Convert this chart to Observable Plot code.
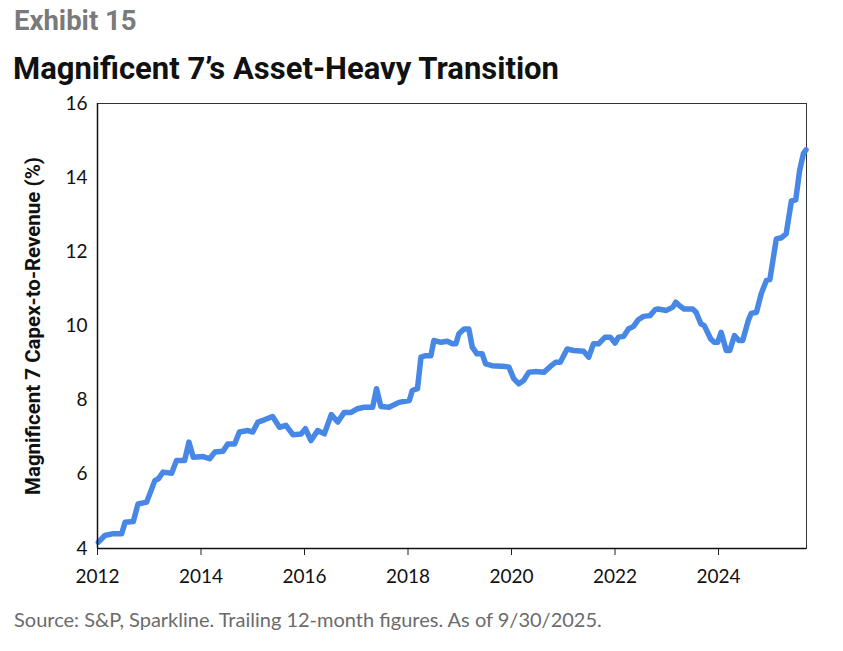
<!DOCTYPE html>
<html>
<head>
<meta charset="utf-8">
<script src="https://cdn.jsdelivr.net/npm/d3@7"></script>
<script src="https://cdn.jsdelivr.net/npm/@observablehq/plot@0.6"></script>
<style>
  html, body { margin: 0; padding: 0; background: #fff; }
  body { width: 843px; height: 651px; position: relative; overflow: hidden; }
  .exhibit { position: absolute; left: 14px; top: 4px; font-family: Roboto, sans-serif; font-weight: 700; font-size: 27.5px; color: #7a7a7a; }
  .title { position: absolute; left: 13px; top: 50px; font-family: Roboto, sans-serif; font-weight: 700; font-size: 31px; color: #111; }
  #chart { position: absolute; left: 0; top: 85px; }
  .source { position: absolute; left: 14px; top: 607px; font-family: Lato, sans-serif; font-size: 20px; color: #6b6b6b; }
  #chart svg [aria-label="y-axis label"] text { font-family: Roboto, sans-serif; font-weight: 700; font-size: 20.5px; fill: #111; }
</style>
</head>
<body>
<div class="exhibit">Exhibit 15</div>
<div class="title">Magnificent 7’s Asset-Heavy Transition</div>
<div id="chart"></div>
<div class="source">Source: S&amp;P, Sparkline. Trailing 12-month figures. As of 9/30/2025.</div>
<script>
// Decimal-year positions
const years = [
  2012.017, 2012.142, 2012.304, 2012.467, 2012.533, 2012.692, 2012.783, 2012.950,
  2013.108, 2013.175, 2013.267, 2013.433, 2013.525, 2013.683, 2013.767, 2013.850,
  2014.042, 2014.167, 2014.267, 2014.425, 2014.517, 2014.650, 2014.742, 2014.908,
  2015.000, 2015.100, 2015.225, 2015.383, 2015.517, 2015.642, 2015.775, 2015.933,
  2016.017, 2016.125, 2016.254, 2016.383, 2016.517, 2016.642, 2016.767, 2016.900,
  2017.025, 2017.150, 2017.317, 2017.392, 2017.475, 2017.633, 2017.825,
  2018.025, 2018.083, 2018.183, 2018.250, 2018.342, 2018.442, 2018.500, 2018.633,
  2018.758, 2018.858, 2018.925, 2018.983,
  2019.083, 2019.175, 2019.242, 2019.333, 2019.433, 2019.500, 2019.625, 2019.883, 2019.950,
  2020.042, 2020.142, 2020.233, 2020.333, 2020.458, 2020.625, 2020.750, 2020.850, 2020.942,
  2021.075, 2021.200, 2021.392, 2021.492, 2021.583, 2021.683, 2021.808, 2021.908,
  2022.000, 2022.067, 2022.167, 2022.258, 2022.358, 2022.450, 2022.550, 2022.675, 2022.775, 2022.833, 2022.992,
  2023.117, 2023.175, 2023.242, 2023.333, 2023.500, 2023.567, 2023.658, 2023.725, 2023.850, 2023.917, 2023.983,
  2024.050, 2024.150, 2024.217, 2024.308, 2024.392, 2024.467, 2024.575, 2024.633, 2024.733, 2024.825, 2024.925, 2024.992,
  2025.117, 2025.217, 2025.308, 2025.408, 2025.492, 2025.567, 2025.640, 2025.690
];
// Magnificent 7 capex-to-revenue (%)
const capexPct = [
  4.17, 4.35, 4.40, 4.40, 4.71, 4.73, 5.20, 5.25,
  5.83, 5.88, 6.06, 6.03, 6.37, 6.37, 6.87, 6.46,
  6.48, 6.42, 6.60, 6.62, 6.82, 6.82, 7.14, 7.18,
  7.14, 7.41, 7.47, 7.56, 7.27, 7.32, 7.07, 7.09,
  7.23, 6.91, 7.18, 7.09, 7.61, 7.41, 7.67, 7.67,
  7.77, 7.81, 7.81, 8.31, 7.83, 7.81, 7.94,
  7.99, 8.26, 8.31, 9.16, 9.20, 9.20, 9.61, 9.56,
  9.59, 9.52, 9.52, 9.79,
  9.92, 9.92, 9.43, 9.25, 9.25, 8.98, 8.93, 8.91, 8.89,
  8.58, 8.44, 8.53, 8.75, 8.77, 8.75, 8.91, 9.02, 9.02,
  9.38, 9.34, 9.32, 9.16, 9.52, 9.52, 9.70, 9.70,
  9.54, 9.70, 9.72, 9.92, 9.99, 10.17, 10.26, 10.28, 10.44, 10.46, 10.42,
  10.51, 10.64, 10.55, 10.46, 10.46, 10.37, 10.06, 10.01, 9.65, 9.56, 9.56,
  9.83, 9.34, 9.34, 9.74, 9.61, 9.61, 10.15, 10.34, 10.37, 10.87, 11.23, 11.25,
  12.35, 12.38, 12.49, 13.37, 13.40, 14.19, 14.65, 14.75
];
const xTicks = [2012, 2014, 2016, 2018, 2020, 2022, 2024];
const yTicks = [4, 6, 8, 10, 12, 14, 16];
const yLabel = "Magnificent 7 Capex-to-Revenue (%)";

const data = years.map((y, i) => ({year: y, value: capexPct[i]}));

const chart = Plot.plot({
  width: 843,
  height: 510,
  marginLeft: 97,
  marginRight: 37,
  marginTop: 18,
  marginBottom: 47,
  style: {fontFamily: "Lato, sans-serif", fontSize: "19px", color: "#111", background: "white"},
  x: {type: "linear", domain: [2012, 2025.7]},
  y: {domain: [4, 16]},
  marks: [
    Plot.frame({stroke: "#333", strokeWidth: 1}),
    Plot.line(data, {x: "year", y: "value", stroke: "#4787e6", strokeWidth: 5.5, curve: "linear", strokeLinejoin: "round", strokeLinecap: "round"}),
    Plot.axisX({ticks: xTicks, tickFormat: d3.format("d"), tickSize: 7, tickPadding: 14, label: null, stroke: "#222"}),
    Plot.axisY({ticks: yTicks, tickSize: 0, tickPadding: 10, label: yLabel, labelAnchor: "center", labelArrow: "none", labelOffset: 72}),
    Plot.ruleX([2012], {stroke: "#111", strokeWidth: 1.5}),
    Plot.ruleY([4], {stroke: "#111", strokeWidth: 1.5})
  ]
});
document.getElementById("chart").appendChild(chart);
</script>
</body>
</html>
